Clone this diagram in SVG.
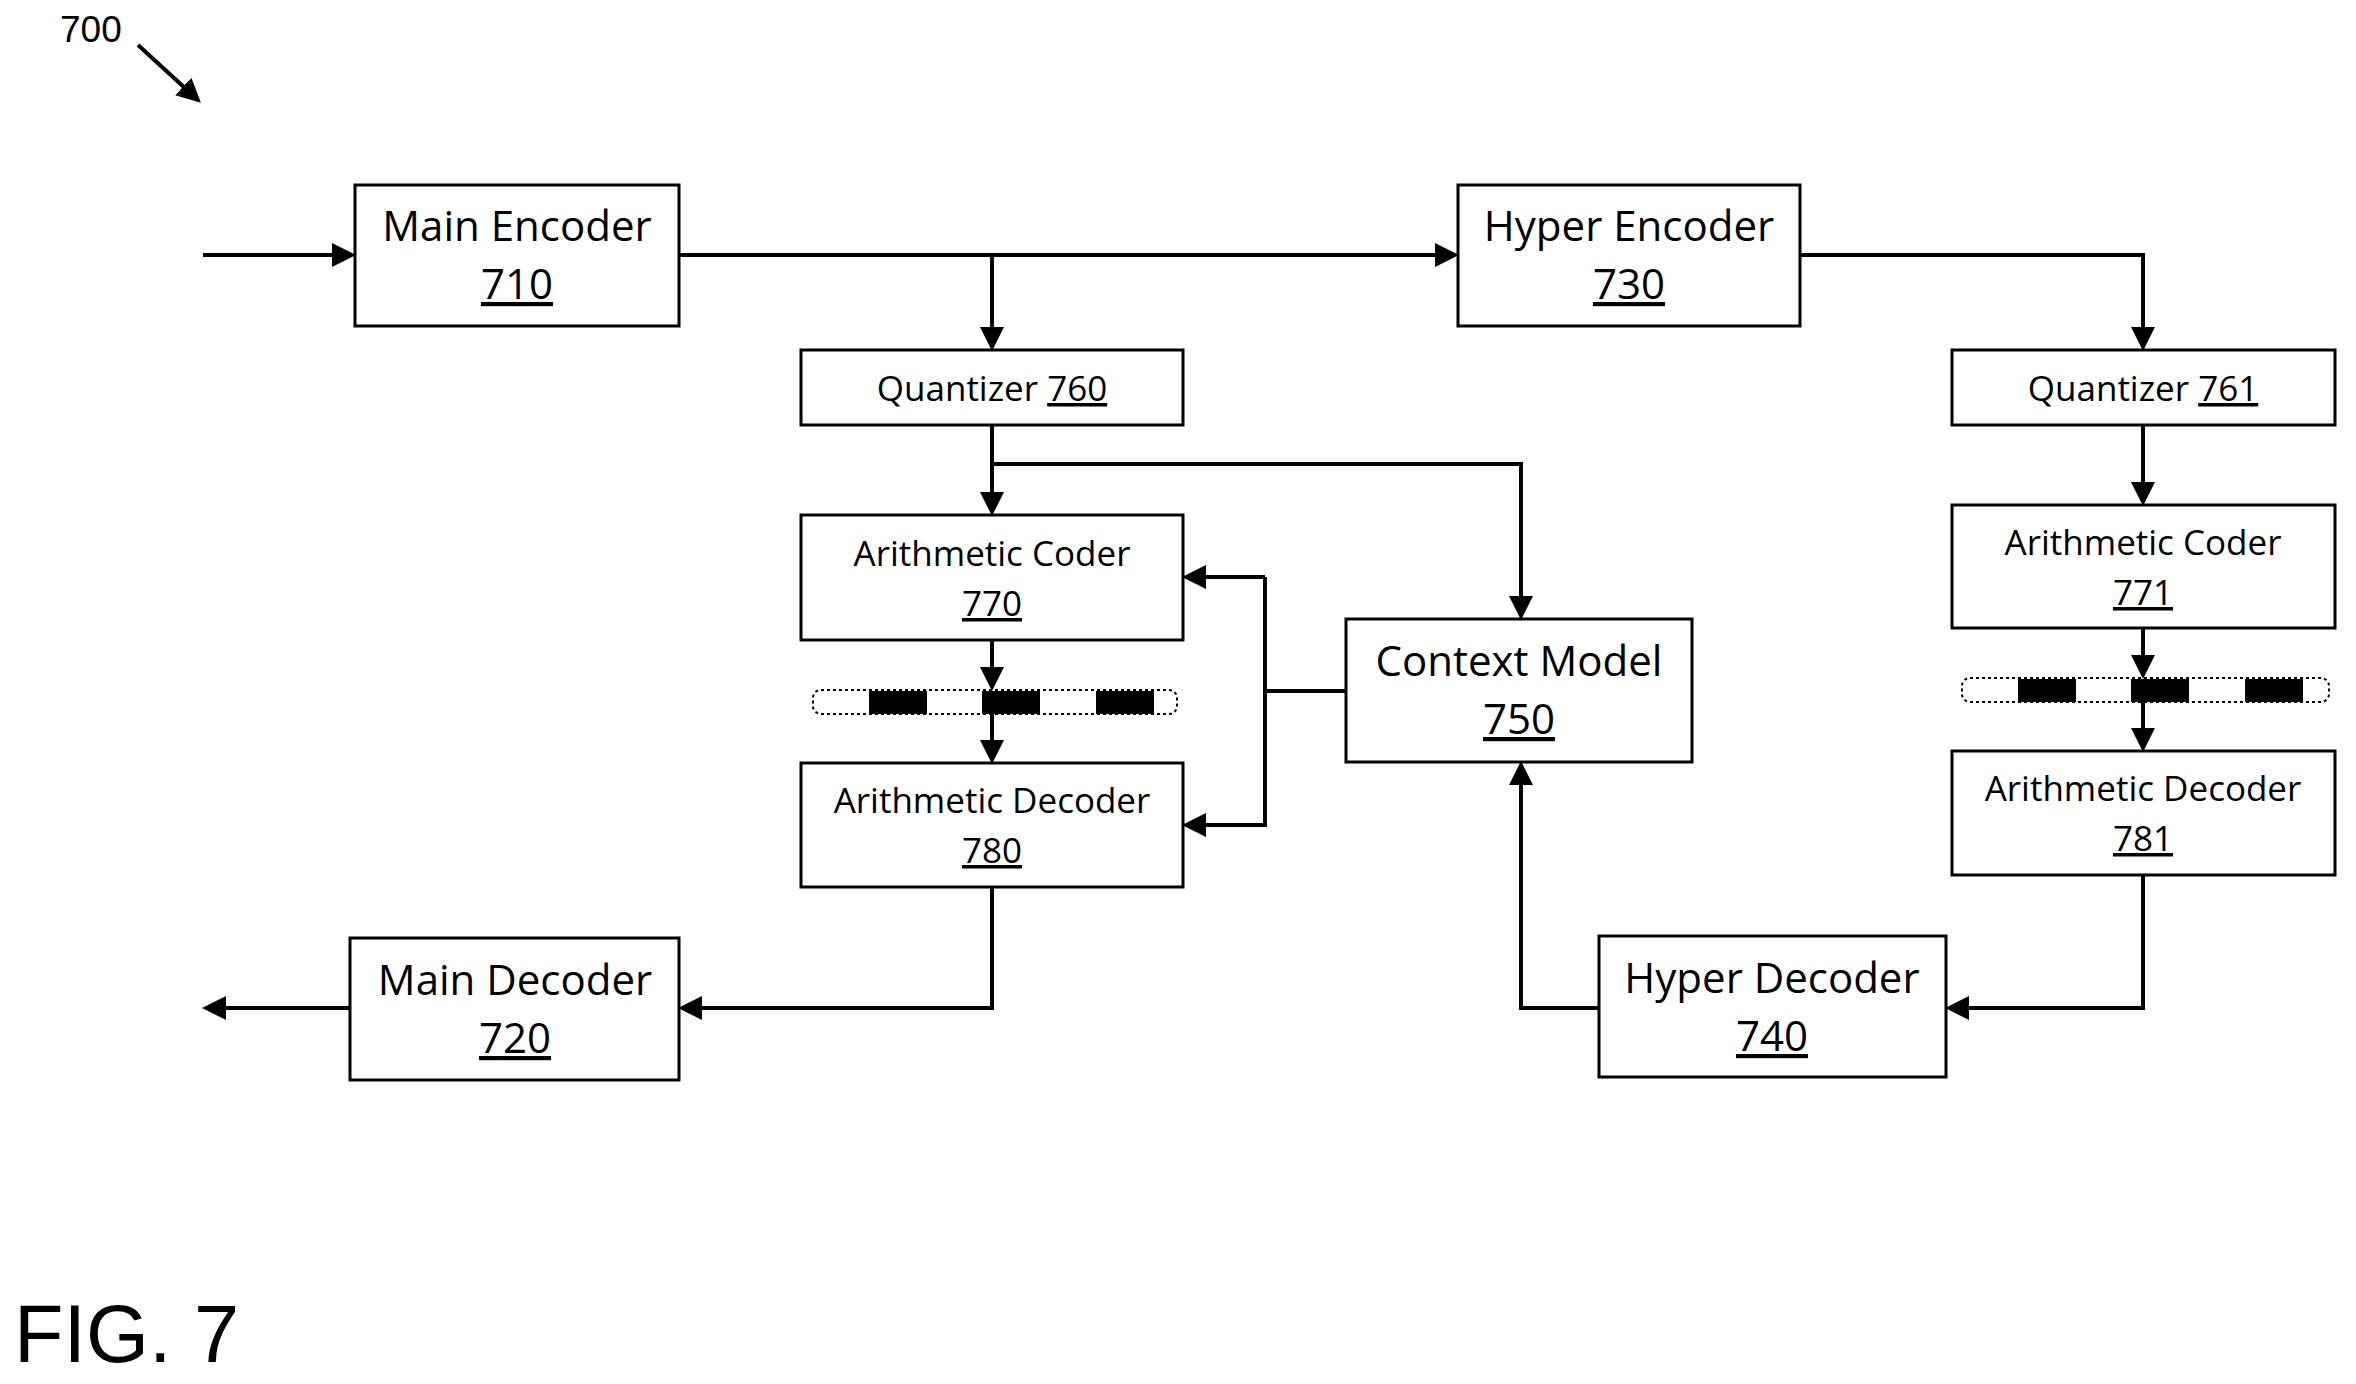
<svg xmlns="http://www.w3.org/2000/svg" width="2356" height="1384" viewBox="0 0 2356 1384">
<style>
.b{fill:#fff;stroke:#000;stroke-width:3}
.t{font-family:"Open Sans","Liberation Sans",sans-serif;text-anchor:middle;fill:#000}
.L{font-size:42px}.S{font-size:35px}
.c{fill:none;stroke:#000;stroke-width:4}
</style>
<defs><marker id="a" markerWidth="6" markerHeight="6" refX="5" refY="3" orient="auto" markerUnits="strokeWidth"><path d="M0,0L6,3L0,6z"/></marker></defs>
<rect width="2356" height="1384" fill="#fff"/>
<text x="60" y="42" style="font-family:'Liberation Sans',sans-serif;font-size:37px">700</text>
<path class="c" d="M138,45L198,100" marker-end="url(#a)"/>
<g id="n710"><rect class="b" x="355" y="185" width="324" height="141"/><text class="t L" x="517" y="241">Main Encoder</text><text class="t L" x="517" y="299" text-decoration="underline">710</text></g>
<g id="n730"><rect class="b" x="1458" y="185" width="342" height="141"/><text class="t L" x="1629" y="241">Hyper Encoder</text><text class="t L" x="1629" y="299" text-decoration="underline">730</text></g>
<g id="n760"><rect class="b" x="801" y="350" width="382" height="75"/><text class="t S" x="992" y="401">Quantizer <tspan text-decoration="underline">760</tspan></text></g>
<g id="n761"><rect class="b" x="1952" y="350" width="383" height="75"/><text class="t S" x="2143" y="401">Quantizer <tspan text-decoration="underline">761</tspan></text></g>
<g id="n770"><rect class="b" x="801" y="515" width="382" height="125"/><text class="t S" x="992" y="566">Arithmetic Coder</text><text class="t S" x="992" y="616" text-decoration="underline">770</text></g>
<g id="n780"><rect class="b" x="801" y="763" width="382" height="124"/><text class="t S" x="992" y="813">Arithmetic Decoder</text><text class="t S" x="992" y="863" text-decoration="underline">780</text></g>
<g id="n771"><rect class="b" x="1952" y="505" width="383" height="123"/><text class="t S" x="2143" y="555">Arithmetic Coder</text><text class="t S" x="2143" y="605" text-decoration="underline">771</text></g>
<g id="n781"><rect class="b" x="1952" y="751" width="383" height="124"/><text class="t S" x="2143" y="801">Arithmetic Decoder</text><text class="t S" x="2143" y="851" text-decoration="underline">781</text></g>
<g id="n750"><rect class="b" x="1346" y="619" width="346" height="143"/><text class="t L" x="1519" y="676">Context Model</text><text class="t L" x="1519" y="734" text-decoration="underline">750</text></g>
<g id="n720"><rect class="b" x="350" y="938" width="329" height="142"/><text class="t L" x="515" y="995">Main Decoder</text><text class="t L" x="515" y="1053" text-decoration="underline">720</text></g>
<g id="n740"><rect class="b" x="1599" y="936" width="347" height="141"/><text class="t L" x="1772" y="993">Hyper Decoder</text><text class="t L" x="1772" y="1051" text-decoration="underline">740</text></g>
<g id="bits1"><rect x="813" y="690" width="364" height="24" rx="8" fill="#fff" stroke="#000" stroke-width="2" stroke-dasharray="3,3"/><rect x="869" y="691" width="58" height="23"/><rect x="982" y="691" width="58" height="23"/><rect x="1096" y="691" width="58" height="23"/></g>
<g id="bits2"><rect x="1962" y="678" width="367" height="24" rx="8" fill="#fff" stroke="#000" stroke-width="2" stroke-dasharray="3,3"/><rect x="2018" y="679" width="58" height="23"/><rect x="2131" y="679" width="58" height="23"/><rect x="2245" y="679" width="58" height="23"/></g>
<g id="connectors">
<path class="c" d="M203,255H352" marker-end="url(#a)"/>
<path class="c" d="M679,255H1455" marker-end="url(#a)"/>
<path class="c" d="M992,255V347" marker-end="url(#a)"/>
<path class="c" d="M1800,255H2143V347" marker-end="url(#a)"/>
<path class="c" d="M992,425V512" marker-end="url(#a)"/>
<path class="c" d="M992,464H1521V616" marker-end="url(#a)"/>
<path class="c" d="M992,640V687" marker-end="url(#a)"/>
<path class="c" d="M992,714V760" marker-end="url(#a)"/>
<path class="c" d="M1346,691H1265"/>
<path class="c" d="M1265,577H1186" marker-end="url(#a)"/>
<path class="c" d="M1265,577V825H1186" marker-end="url(#a)"/>
<path class="c" d="M992,887V1008H682" marker-end="url(#a)"/>
<path class="c" d="M350,1008H206" marker-end="url(#a)"/>
<path class="c" d="M1599,1008H1521V765" marker-end="url(#a)"/>
<path class="c" d="M2143,875V1008H1949" marker-end="url(#a)"/>
<path class="c" d="M2143,425V502" marker-end="url(#a)"/>
<path class="c" d="M2143,628V675" marker-end="url(#a)"/>
<path class="c" d="M2143,702V748" marker-end="url(#a)"/>
</g>
<text x="14" y="1362" style="font-family:'Liberation Sans',sans-serif;font-size:81px">FIG. 7</text>
</svg>
